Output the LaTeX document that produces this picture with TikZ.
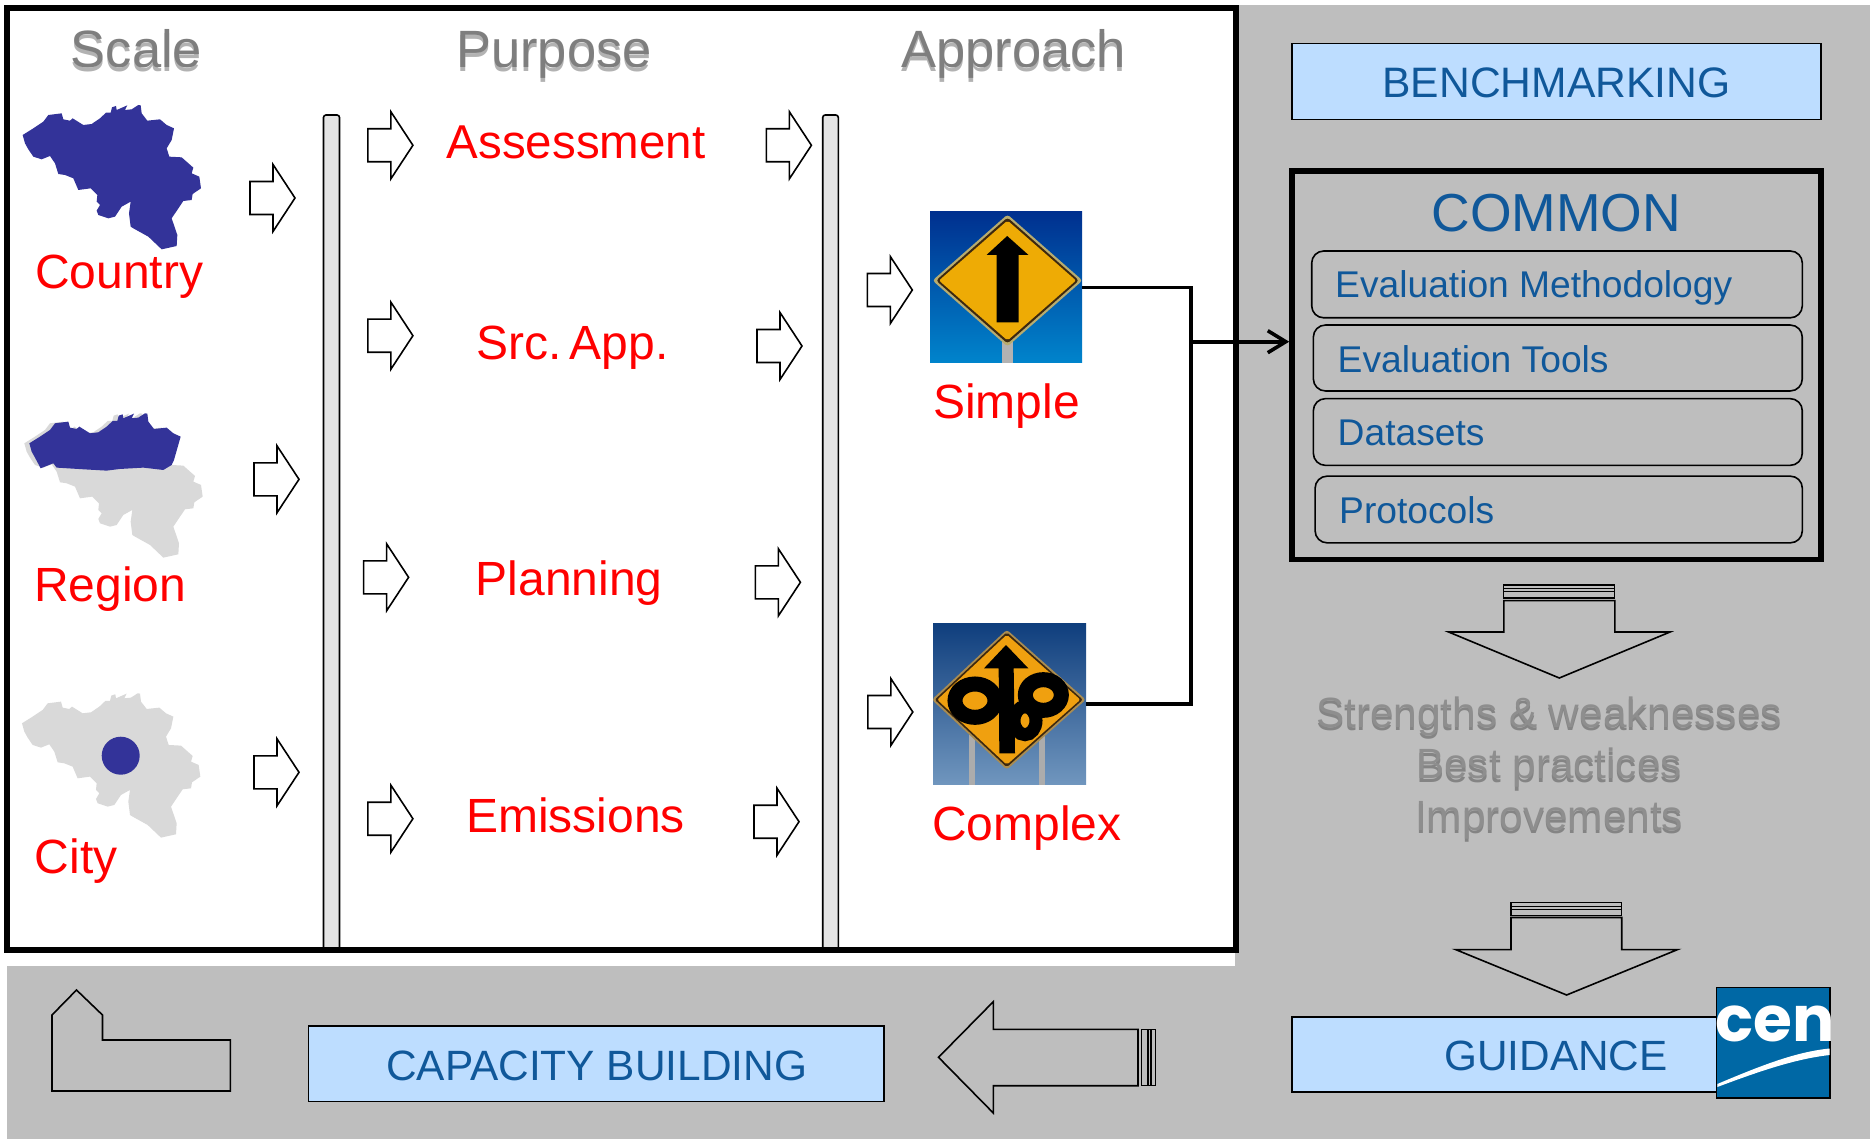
\documentclass[tikz,border=0pt]{standalone}
\usepackage{fontspec}
\setmainfont{Liberation Sans}
\newfontfamily\logofont{Poppins}
\usetikzlibrary{arrows.meta,calc}
\frenchspacing
\definecolor{panelgray}{HTML}{BEBEBE}
\definecolor{boxblue}{HTML}{BDDDFF}
\definecolor{inkblue}{HTML}{10589A}
\definecolor{mapblue}{HTML}{333399}
\definecolor{mapgray}{HTML}{D9D9D9}
\definecolor{barfill}{HTML}{E4E4E4}
\definecolor{softink}{HTML}{7E7E7E}
\definecolor{softink2}{HTML}{8E8E8E}
\definecolor{cenblue}{HTML}{0068A5}
\definecolor{skyatop}{HTML}{00308F}
\definecolor{skyamid}{HTML}{0058B0}
\definecolor{skyabot}{HTML}{0084CC}
\definecolor{skybtop}{HTML}{0F3E7D}
\definecolor{skybbot}{HTML}{7096BE}
\definecolor{signrim}{HTML}{B8AC6E}
\definecolor{signdark}{HTML}{3C280F}
\definecolor{signamber}{HTML}{EEAB05}
\definecolor{signorange}{HTML}{F0A00F}
\definecolor{signrimb}{HTML}{AA8C50}
\newcommand\softtext[2]{\leavevmode\pgfsetfillopacity{0.3}{\color{black}\rlap{\raisebox{-3.5pt}{#2}}}\pgfsetfillopacity{1}{\color{#1}#2}}
\newcommand\belgiumcoast{(68,405)--(100,385)--(130,365)--(145,345)--(185,340)--(190,358)--(210,362)--(218,355)--(250,375)--(275,372)--(300,355)--(318,338)--(332,338)--(336,322)--(348,318)--(350,330)--(382,316)--(375,330)--(395,328)--(415,315)--(422,316)--(425,340)--(442,362)--(480,358)--(500,375)--(522,385)}
\newcommand\belgiumsouth{--(515,420)--(500,445)--(508,470)--(545,472)--(580,503)--(575,520)--(598,530)--(603,565)--(578,582)--(575,600)--(550,603)--(515,655)--(532,705)--(530,738)--(485,748)--(445,710)--(400,685)--(392,680)--(387,640)--(392,605)--(365,620)--(345,650)--(325,655)--(295,645)--(290,632)--(300,615)--(290,605)--(292,585)--(272,565)--(235,570)--(220,535)--(195,525)--(175,522)--(165,490)--(150,468)--(125,478)--(100,470)--(85,448)--(75,430)--cycle}
\tikzset{
  x=1pt,y=-1pt,
  bluebox/.style={draw=black,line width=1.6pt,fill=boxblue,inner sep=0pt,text=inkblue},
  itembox/.style={draw=black,line width=1.6pt,rounded corners=12pt,inner sep=0pt},
  redlabel/.style={text=red,inner sep=0pt,anchor=base west,font=\fontsize{48}{55}\selectfont},
  headlabel/.style={inner sep=0pt,anchor=base,font=\fontsize{52.5}{60}\selectfont},
  itemlabel/.style={text=inkblue,inner sep=0pt,anchor=base west,font=\fontsize{37.2}{44}\selectfont},
  softlabel/.style={inner sep=0pt,anchor=base,font=\fontsize{42.3}{50}\selectfont},
  outline/.style={draw=black,line width=1.6pt,miter limit=20},
  wire/.style={draw=black,line width=3.6pt},
  rightarrow/.pic={\draw[outline,fill=white] (0,-16.5)--(23,-16.5)--(23,-33.5)--(45,0)--(23,33.5)--(23,16.5)--(0,16.5)--cycle;},
  barshape/.style={draw=black,line width=1.6pt,fill=barfill,rounded corners=2.5pt},
}
\begin{document}
\begin{tikzpicture}
\useasboundingbox (0,0) rectangle (1870,1139);
\fill[white] (0,0) rectangle (1870,1139);
% grey panels
\fill[panelgray] (1235,5) rectangle (1870,1139);
\fill[panelgray] (7,966) rectangle (1240,1139);
% main white frame
\fill[white] (7,8) rectangle (1236,950);
% vertical bars
\draw[barshape] (323.5,951) -- (323.5,115) -- (339.5,115) -- (339.5,951);
\draw[barshape] (822.7,951) -- (822.7,115) -- (838.3,115) -- (838.3,951);
\draw[black,line width=5.5pt] (7,8) rectangle (1236,950);
% column titles
\node[headlabel] (scaletitle) at (136.5,68) {\softtext{softink}{Scale}};
\node[headlabel] (purposetitle) at (554,68) {\softtext{softink}{Purpose}};
\node[headlabel] (approachtitle) at (1013.5,68) {\softtext{softink}{Approach}};
% maps
\begin{scope}[xscale=1/3,yscale=1/3]
  \fill[mapblue] \belgiumcoast \belgiumsouth;
\end{scope}
\begin{scope}[shift={(1.67,308.3)},xscale=1/3,yscale=1/3]
  \fill[mapgray] \belgiumcoast \belgiumsouth;
\end{scope}
\begin{scope}[shift={(6.67,308.3)},xscale=1/3,yscale=1/3]
  \fill[mapblue] \belgiumcoast --(502,455)--(495,470)--(470,485)--(410,478)--(340,482)--(300,487)--(230,483)--(150,478)--(140,465)--(102,480)--(85,448)--(75,430)--cycle;
\end{scope}
\begin{scope}[shift={(-0.67,588.3)},xscale=1/3,yscale=1/3]
  \fill[mapgray] \belgiumcoast \belgiumsouth;
\end{scope}
\fill[mapblue] (120.7,755.7) circle[radius=19];
% red labels
\node[redlabel] (country) at (35,288.3) {Country};
\node[redlabel] (region) at (34,601) {Region};
\node[redlabel] (city) at (34.5,873.3) {City};
\node[redlabel,font=\fontsize{47.5}{55}\selectfont] (assessment) at (446.5,158.3) {Assessment};
\node[redlabel] (srcapp) at (476,359.3) {Src.\hspace{-5pt} App.};
\node[redlabel] (planning) at (475.5,595.7) {Planning};
\node[redlabel] (emissions) at (466,832.3) {Emissions};
\node[redlabel] (simplelabel) at (933,418.3) {Simple};
\node[redlabel] (complexlabel) at (932,840.7) {Complex};
% small block arrows
\pic at (250,198) {rightarrow};
\pic at (254,479.3) {rightarrow};
\pic at (254,772.3) {rightarrow};
\pic at (367.9,145.3) {rightarrow};
\pic at (367.9,335.7) {rightarrow};
\pic at (363.6,577.3) {rightarrow};
\pic at (367.9,818.7) {rightarrow};
\pic at (766.4,145.3) {rightarrow};
\pic at (757,346) {rightarrow};
\pic at (755.4,582.3) {rightarrow};
\pic at (754,821.7) {rightarrow};
\pic at (867.3,290) {rightarrow};
\pic at (867.8,712) {rightarrow};
% simple sign
\node[inner sep=0pt,minimum width=152pt,minimum height=150.7pt,top color=skyatop,middle color=skyamid,bottom color=skyabot] (simple) at (1006,287.35) {};
\fill[gray!60] (1002,330) rectangle (1013.3,362.7);
\begin{scope}[shift={(1007.5,280.5)}]
  \fill[rounded corners=3pt,color=signrim] (-75,0)--(0,-66)--(75,0)--(0,66)--cycle;
  \fill[rounded corners=3pt,color=signdark] (-71.5,0)--(0,-63)--(71.5,0)--(0,63)--cycle;
  \fill[rounded corners=2pt,color=signamber] (-68.5,0)--(0,-60)--(68.5,0)--(0,60)--cycle;
  \fill[black] (-21,-25.5)--(-0.3,-44.5)--(21,-25.5)--(11,-25.5)--(11,41.8)--(-11,41.8)--(-11,-25.5)--cycle;
\end{scope}
% complex sign
\node[inner sep=0pt,minimum width=153pt,minimum height=161.7pt,top color=skybtop,bottom color=skybbot] (complex) at (1009.5,703.85) {};
\fill[gray!65] (969.3,735) rectangle (975.3,784.7);
\fill[gray!65] (1039.3,735) rectangle (1045.3,784.7);
\begin{scope}[shift={(1008.8,699.7)}]
  \fill[rounded corners=3pt,color=signrimb] (-77,0)--(-2,-70)--(77,0)--(-2,70)--cycle;
  \fill[rounded corners=2pt,color=signdark] (-74,0)--(-2,-67.5)--(74,0)--(-2,67.5)--cycle;
  \fill[rounded corners=2pt,color=signorange] (-71.5,0)--(-2,-65)--(71.5,0)--(-2,65)--cycle;
\end{scope}
\begin{scope}[shift={(900,600)},xscale=1/3,yscale=1/3]
  \draw[black,line width=15pt] (225,302) ellipse[x radius=60,y radius=50];
  \draw[black,line width=15pt] (430,285) ellipse[x radius=54,y radius=46];
  \draw[black,line width=13pt] (375,362) ellipse[x radius=33,y radius=42];
  \fill[black] (252,205)--(318,135)--(385,205)--(341,205)--(345,460)--(298,460)--(296,205)--cycle;
\end{scope}
% right column boxes
\node[bluebox,minimum width=529pt,minimum height=76pt] (bench) at (1556.4,81.6) {};
\node[anchor=base,inner sep=0pt,text=inkblue,font=\fontsize{42.6}{50}\selectfont] (benchtext) at (1556.4,98) {BENCHMARKING};
\node[draw=black,line width=5.3pt,minimum width=529.1pt,minimum height=388.5pt,inner sep=0pt] (common) at (1556.4,365.25) {};
\node[anchor=base,inner sep=0pt,text=inkblue,font=\fontsize{53.5}{60}\selectfont] (commontitle) at (1556.2,231.5) {COMMON};
\node[itembox,minimum width=490.6pt,minimum height=66.8pt] (item1) at (1557,284.4) {};
\node[itembox,minimum width=488.9pt,minimum height=65.9pt] (item2) at (1557.8,358) {};
\node[itembox,minimum width=488.9pt,minimum height=66.7pt] (item3) at (1557.8,432) {};
\node[itembox,minimum width=487.2pt,minimum height=66.7pt] (item4) at (1558.7,509.5) {};
\node[itemlabel] (item1text) at (1335,297.4) {Evaluation Methodology};
\node[itemlabel] (item2text) at (1337.5,372.7) {Evaluation Tools};
\node[itemlabel] (item3text) at (1337.5,445.6) {Datasets};
\node[itemlabel] (item4text) at (1339,523.3) {Protocols};
% connector
\coordinate (bus) at (1190.7,341.7);
\draw[wire] (simple.east) -| (bus) |- (complex.east);
\draw[wire,-{Straight Barb[length=18pt,width=22pt]}] (bus) -- (common.west |- bus);
% down arrows
\draw[outline] (1503.8,600.6)--(1614.8,600.6)--(1614.8,632)--(1670,632)--(1559.3,678)--(1448.6,632)--(1503.8,632)--cycle;
\draw[outline,line width=1.3pt] (1503.8,585.1) rectangle (1614.8,598);
\draw[outline,line width=1.3pt] (1503.8,588.8) -- (1614.8,588.8);
\draw[outline,line width=1.3pt] (1503.8,591.8) -- (1614.8,591.8);
\node[softlabel] (strengths) at (1549,727) {\softtext{softink2}{Strengths \& weaknesses}};
\node[softlabel] (best) at (1549,778.7) {\softtext{softink2}{Best practices}};
\node[softlabel] (improve) at (1549,830.4) {\softtext{softink2}{Improvements}};
\draw[outline] (1511,917.5)--(1621.7,917.5)--(1621.7,949.6)--(1677.5,949.6)--(1566.6,995)--(1455.7,949.6)--(1511,949.6)--cycle;
\draw[outline,line width=1.3pt] (1511,902.7) rectangle (1621.7,915.2);
\draw[outline,line width=1.3pt] (1511,906.4) -- (1621.7,906.4);
\draw[outline,line width=1.3pt] (1511,909.7) -- (1621.7,909.7);
% guidance and logo
\node[bluebox,minimum width=430pt,minimum height=75pt] (guidance) at (1506.8,1054.5) {};
\node[anchor=base,inner sep=0pt,text=inkblue,font=\fontsize{42.3}{50}\selectfont] (guidancetext) at (1556,1070.4) {GUIDANCE};
\node[draw=black,line width=1.6pt,fill=cenblue,minimum width=113.4pt,minimum height=110.4pt,inner sep=0pt] (logo) at (1773,1042.5) {};
\node[anchor=base west,inner sep=0pt,text=white,font=\logofont\bfseries\fontsize{63}{70}\selectfont] (logotext) at (1715,1041.7) {cen};
\fill[white] (1717.3,1084) .. controls (1760,1066) and (1795,1052) .. (1829.5,1048.5) -- (1829.5,1055) .. controls (1795,1059) and (1760,1071) .. (1717.3,1087) -- cycle;
% capacity building
\node[bluebox,minimum width=575.5pt,minimum height=75.6pt] (capacity) at (596.15,1063.5) {};
\node[anchor=base,inner sep=0pt,text=inkblue,font=\fontsize{42.4}{50}\selectfont] (capacitytext) at (596.7,1080.7) {CAPACITY BUILDING};
% left arrow
\draw[outline] (1138,1029.3)--(993.3,1029.3)--(993.3,1001.7)--(938.5,1057.3)--(993.3,1113)--(993.3,1085.7)--(1138,1085.7)--cycle;
\draw[outline,line width=1.3pt] (1141.8,1029.3) rectangle (1155.6,1085.7);
\draw[outline,line width=1.3pt] (1148,1029.3) -- (1148,1085.7);
\draw[outline,line width=1.3pt] (1151,1029.3) -- (1151,1085.7);
% bent shape
\draw[outline] (52,1091)--(52,1015)--(76.5,990)--(102.5,1015)--(102.5,1040)--(230.4,1040)--(230.4,1091)--cycle;
\end{tikzpicture}
\end{document}
